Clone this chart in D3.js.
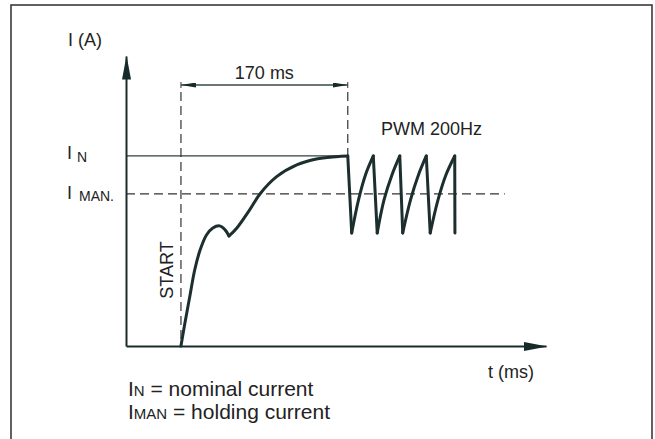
<!doctype html>
<html lang="en">
<head>
<meta charset="utf-8">
<title>Current profile</title>
<script src="https://d3js.org/d3.v7.min.js"></script>
<style>
body { margin: 0; background: #fff; }
svg text { font-family: "Liberation Sans", Arial, sans-serif; fill: #222; }
.axis path { stroke: #1c2c2c; stroke-width: 2; fill: none; }
.dash { stroke: #333; stroke-width: 1.2; stroke-dasharray: 9 5; fill: none; }
.curve { stroke: #1c2e2e; stroke-width: 3; fill: none; stroke-linejoin: round; stroke-linecap: round; }
</style>
</head>
<body>
<div id="chart"></div>
<script>
// time in ms, current as a fraction of nominal current
var axisT = [-56, 372];
var axisI = [0, 1.526];
var levelN = 1.0, levelMan = 0.8;
var startT = 0, endT = 170;

// inrush curve up to the armature dip
var riseT = [0, 4, 9, 14, 19.5, 26, 32.5, 39.5, 45, 49];
var riseI = [0, 0.12, 0.26, 0.40, 0.505, 0.584, 0.621, 0.632, 0.611, 0.579];
// climb after the dip to nominal current
var climbT = [49, 57, 70, 80.5, 97.5, 118, 138, 158, 170];
var climbI = [0.579, 0.621, 0.716, 0.80, 0.891, 0.953, 0.984, 0.996, 1.0];
// PWM sawtooth: groups of [peak, low, mid, mid], last peak then final drop
var pwmT = [170, 174, 181, 188, 196, 200, 207, 215, 223, 226, 234, 242, 250, 254, 262, 270, 279, 279.2];
var pwmI = [1.0, 0.595, 0.77, 0.90, 1.0, 0.595, 0.77, 0.90, 1.0, 0.595, 0.77, 0.90, 1.0, 0.595, 0.77, 0.90, 1.0, 0.595];
var pwmDashEnd = 330;   // where the holding-current dashed line ends (ms)

var width = 655, height = 439;
var svg = d3.select("#chart").append("svg")
    .attr("width", width).attr("height", height);

var x = d3.scaleLinear().domain(axisT).range([126, 546]);
var y = d3.scaleLinear().domain(axisI).range([346, 56]);

// frame
svg.append("rect")
    .attr("x", 11).attr("y", 5).attr("width", 641).attr("height", 450)
    .attr("fill", "none").attr("stroke", "#3a3a3a").attr("stroke-width", 1.6);

var defs = svg.append("defs");
defs.append("marker").attr("id", "bigArrow")
    .attr("viewBox", "0 -4.5 24 9").attr("refX", 23).attr("refY", 0)
    .attr("markerUnits", "userSpaceOnUse")
    .attr("markerWidth", 24).attr("markerHeight", 9).attr("orient", "auto")
  .append("path").attr("d", "M0,-4.5L24,0L0,4.5Z").attr("fill", "#172a2a");
defs.append("marker").attr("id", "smallArrow")
    .attr("viewBox", "0 -2.5 15 5").attr("refX", 15).attr("refY", 0)
    .attr("markerUnits", "userSpaceOnUse")
    .attr("markerWidth", 15).attr("markerHeight", 5).attr("orient", "auto-start-reverse")
  .append("path").attr("d", "M0,-2.5L15,0L0,2.5Z").attr("fill", "#172a2a");

// reference lines
svg.append("line")
    .attr("x1", x(axisT[0])).attr("x2", x(endT))
    .attr("y1", y(levelN)).attr("y2", y(levelN))
    .attr("stroke", "#2c4040").attr("stroke-width", 1.3);
svg.append("line").attr("class", "dash")
    .attr("x1", x(axisT[0])).attr("x2", x(pwmDashEnd))
    .attr("y1", y(levelMan)).attr("y2", y(levelMan));
svg.append("line").attr("class", "dash")
    .attr("x1", x(startT)).attr("x2", x(startT))
    .attr("y1", 92).attr("y2", y(0));
svg.append("line").attr("class", "dash")
    .attr("x1", x(endT)).attr("x2", x(endT))
    .attr("y1", 92).attr("y2", y(levelN));

// dimension 170 ms
svg.append("line")
    .attr("x1", x(startT)).attr("x2", x(endT))
    .attr("y1", 85).attr("y2", 85)
    .attr("stroke", "#3a4a4a").attr("stroke-width", 1.4)
    .attr("marker-start", "url(#smallArrow)").attr("marker-end", "url(#smallArrow)");
[startT, endT].forEach(function(t) {
    svg.append("line").attr("x1", x(t)).attr("x2", x(t)).attr("y1", 82).attr("y2", 88)
        .attr("stroke", "#333").attr("stroke-width", 1);
});
svg.append("text").attr("x", (x(startT) + x(endT)) / 2).attr("y", 79)
    .attr("text-anchor", "middle").attr("font-size", 18).text("170 ms");

// axes
var xAxis = svg.append("g").attr("class", "axis")
    .attr("transform", "translate(0," + y(0) + ")")
    .call(d3.axisBottom(x).tickValues([]).tickSizeOuter(0));
xAxis.select(".domain").attr("marker-end", "url(#bigArrow)");
var yAxis = svg.append("g").attr("class", "axis")
    .attr("transform", "translate(" + x(axisT[0]) + ",0)")
    .call(d3.axisLeft(y).tickValues([]).tickSizeOuter(0));
yAxis.select(".domain").attr("marker-end", "url(#bigArrow)");

// curves
var line = d3.line().x(function(d) { return x(d[0]); }).y(function(d) { return y(d[1]); });
var smooth = d3.line().x(function(d) { return x(d[0]); }).y(function(d) { return y(d[1]); })
    .curve(d3.curveCatmullRom.alpha(0.5));

svg.append("path").attr("class", "curve").attr("d", smooth(d3.zip(riseT, riseI)));
svg.append("path").attr("class", "curve").attr("d", smooth(d3.zip(climbT, climbI)));

var pwm = d3.zip(pwmT, pwmI);
for (var i = 0; i + 1 < pwm.length; i += 4) {
    svg.append("path").attr("class", "curve").attr("d", line([pwm[i], pwm[i + 1]]));
    if (i + 4 < pwm.length) {
        svg.append("path").attr("class", "curve")
            .attr("d", smooth([pwm[i + 1], pwm[i + 2], pwm[i + 3], pwm[i + 4]]));
    }
}

// labels
svg.append("text").attr("x", 68).attr("y", 46).attr("font-size", 18).text("I (A)");
var lN = svg.append("text").attr("x", 67).attr("y", y(levelN) + 3).attr("font-size", 18);
lN.append("tspan").text("I");
lN.append("tspan").attr("x", 77).attr("dy", 3).attr("font-size", 14).text("N");
var lM = svg.append("text").attr("x", 67).attr("y", y(levelMan) + 5).attr("font-size", 18);
lM.append("tspan").text("I");
lM.append("tspan").attr("x", 79).attr("dy", 2).attr("font-size", 14).text("MAN.");

svg.append("text").attr("transform", "translate(173," + 270 + ") rotate(-90)")
    .attr("text-anchor", "middle").attr("font-size", 18).text("START");
svg.append("text").attr("x", 381).attr("y", 135).attr("font-size", 18).text("PWM 200Hz");
svg.append("text").attr("x", 488).attr("y", 378).attr("font-size", 18).text("t (ms)");

var g1 = svg.append("text").attr("x", 128).attr("y", 396).attr("font-size", 21);
g1.append("tspan").text("I");
g1.append("tspan").attr("font-size", 15).text("N");
g1.append("tspan").text(" = nominal current");
var g2 = svg.append("text").attr("x", 128).attr("y", 419).attr("font-size", 21);
g2.append("tspan").text("I");
g2.append("tspan").attr("font-size", 15).text("MAN");
g2.append("tspan").text(" = holding current");
</script>
</body>
</html>
